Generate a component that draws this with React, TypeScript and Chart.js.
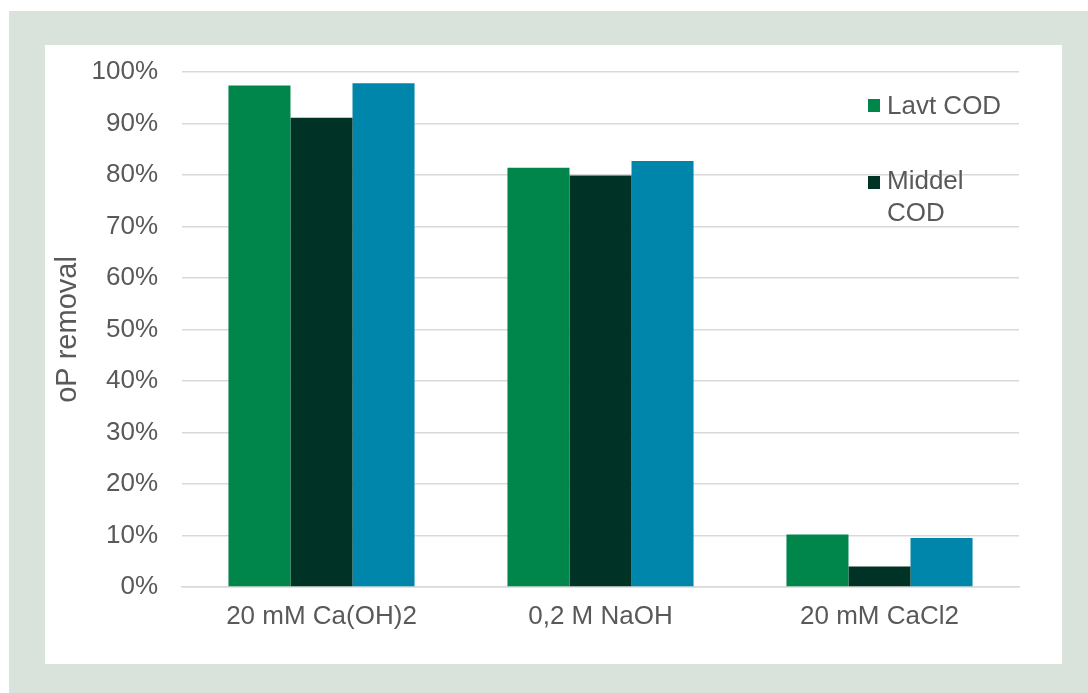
import React, { useEffect, useRef } from "react";
import { Chart, registerables } from "chart.js";

Chart.register(...registerables);

const categories = ["20 mM Ca(OH)2", "0,2 M NaOH", "20 mM CaCl2"];
const seriesNames = ["Lavt COD", "Middel COD", "Højt COD"];
const lavtCOD = [97.4, 81.4, 10.2];
const middelCOD = [91.1, 79.9, 4.0];
const hojtCOD = [97.8, 82.7, 9.5];
const yTicks = [0, 10, 20, 30, 40, 50, 60, 70, 80, 90, 100];

const colors = ["#00854a", "#003325", "#0085ab"];
const FONT = "'Liberation Sans', Arial, sans-serif";
const TEXT = "#595959";

export default function App() {
  const ref = useRef<HTMLCanvasElement | null>(null);

  useEffect(() => {
    if (!ref.current) return;
    const chart = new Chart(ref.current, {
      type: "bar",
      data: {
        labels: categories,
        datasets: [lavtCOD, middelCOD, hojtCOD].map((d, i) => ({
          label: seriesNames[i],
          data: d,
          backgroundColor: colors[i],
          borderWidth: 0,
          categoryPercentage: 0.667,
          barPercentage: 1,
        })),
      },
      options: {
        animation: false,
        responsive: false,
        maintainAspectRatio: false,
        layout: { padding: { top: 27, right: 43, left: 0, bottom: 0 } },
        plugins: { legend: { display: false }, tooltip: { enabled: false } },
        scales: {
          x: {
            grid: { display: false, drawTicks: false },
            border: { display: true, color: "#d9d9d9", width: 1.5 },
            ticks: { color: TEXT, font: { family: FONT, size: 26 }, padding: 14 },
            afterFit: (s: any) => {
              s.height = 77;
              s.paddingLeft = 0;
              s.paddingRight = 0;
            },
          },
          y: {
            min: 0,
            max: 100,
            afterBuildTicks: (s: any) => { s.ticks = yTicks.map((v) => ({ value: v })); },
            grid: { color: "#d9d9d9", lineWidth: 1.5, drawTicks: false },
            border: { display: false },
            ticks: {
              color: TEXT,
              font: { family: FONT, size: 26 },
              padding: 24,
              callback: (v: any) => v + "%",
            },
            title: {
              display: true,
              text: "oP removal",
              color: TEXT,
              font: { family: FONT, size: 29 },
              padding: { top: 6, bottom: 0 },
            },
            afterFit: (s: any) => {
              s.width = 137;
              s.paddingTop = 0;
              s.paddingBottom = 0;
            },
          },
        },
      },
    });
    return () => chart.destroy();
  }, []);

  return (
    <div
      style={{
        position: "fixed",
        left: 9,
        top: 11,
        width: 1079,
        height: 682,
        background: "#d9e3db",
      }}
    >
      <div
        style={{
          position: "absolute",
          left: 36,
          top: 34,
          width: 1017,
          height: 619,
          background: "#ffffff",
        }}
      >
        <canvas ref={ref} width={1017} height={619} style={{ display: "block" }} />
        <div style={{ position: "absolute", left: 823, top: 54, width: 12, height: 13, background: colors[0] }} />
        <div
          style={{
            position: "absolute",
            left: 842,
            top: 44,
            fontFamily: FONT,
            fontSize: 26,
            lineHeight: "32px",
            color: TEXT,
            whiteSpace: "nowrap",
          }}
        >
          Lavt COD
        </div>
        <div style={{ position: "absolute", left: 823, top: 131, width: 12, height: 13, background: colors[1] }} />
        <div
          style={{
            position: "absolute",
            left: 842,
            top: 119,
            fontFamily: FONT,
            fontSize: 26,
            lineHeight: "32px",
            color: TEXT,
          }}
        >
          Middel
          <br />
          COD
        </div>
      </div>
    </div>
  );
}
